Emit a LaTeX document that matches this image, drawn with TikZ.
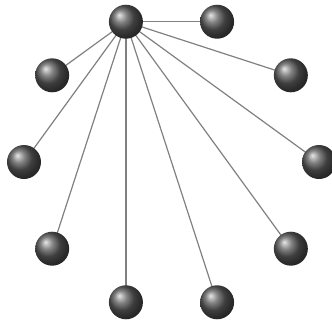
\documentclass[tikz,border=0pt]{standalone}
\usetikzlibrary{backgrounds}

\begin{document}
\begin{tikzpicture}[x=1pt,y=1pt,
  ball/.style={circle,shading=ball,ball color=black!65,minimum size=34pt,inner sep=0pt},
  spoke/.style={draw=gray,line width=1.2pt}]
\useasboundingbox (-171.5,-160) rectangle (160.5,162);
\node[ball] (h) at (108:147.5) {};
\node[ball] (v1) at (72:147.5) {};
\node[ball] (v2) at (36:147.5) {};
\node[ball] (v3) at (0:147.5) {};
\node[ball] (v4) at (-36:147.5) {};
\node[ball] (v5) at (-72:147.5) {};
\node[ball] (v6) at (-108:147.5) {};
\node[ball] (v7) at (-144:147.5) {};
\node[ball] (v8) at (180:147.5) {};
\node[ball] (v9) at (144:147.5) {};
\begin{pgfonlayer}{background}
\foreach \v in {v1,v2,v3,v4,v5,v6,v7,v8,v9}
  \draw[spoke] (h.center)--(\v.center);
\end{pgfonlayer}
\end{tikzpicture}
\end{document}
